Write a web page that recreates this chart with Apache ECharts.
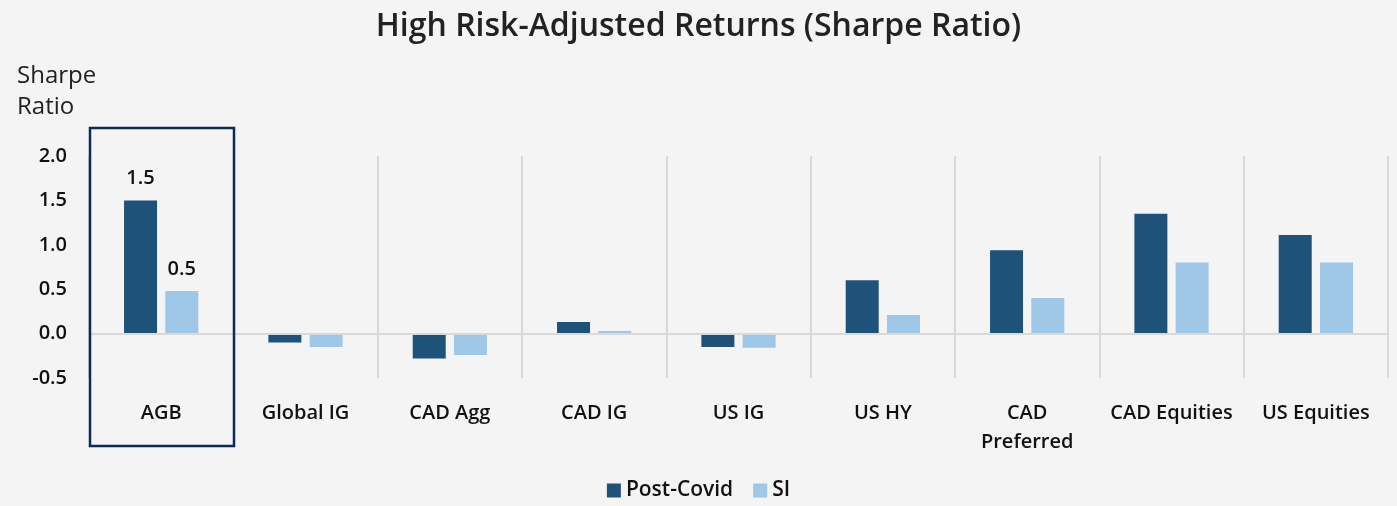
<!DOCTYPE html>
<html>
<head>
<meta charset="utf-8">
<script src="https://cdn.jsdelivr.net/npm/echarts@6/dist/echarts.min.js"></script>
<style>
html, body { margin: 0; padding: 0; background: #f4f4f4; }
#sharpeChart { width: 1397px; height: 506px; }
</style>
</head>
<body>
<div id="sharpeChart"></div>
<script type="text/javascript">
'use strict';
var categories = ['AGB', 'Global IG', 'CAD Agg', 'CAD IG', 'US IG', 'US HY', 'CAD\nPreferred', 'CAD Equities', 'US Equities'];
var postCovid = [1.5, -0.1, -0.28, 0.13, -0.15, 0.6, 0.94, 1.35, 1.11];
var si = [0.48, -0.15, -0.24, 0.03, -0.16, 0.21, 0.4, 0.8, 0.8];
var labelled = { 'AGB': true }; // only the highlighted asset carries value labels
var fontName = 'Open Sans';
var textColor = '#111';

var myChart = echarts.init(document.getElementById('sharpeChart'));
var sharpeOption = {
	backgroundColor: '#f4f4f4',
	textStyle: { fontFamily: fontName },
	title: [{
		text: 'High Risk-Adjusted Returns (Sharpe Ratio)',
		left: 'center',
		top: 6,
		textStyle: { fontSize: 32, fontWeight: 600, color: '#222', fontFamily: fontName }
	}, {
		text: 'Sharpe\nRatio',
		left: 12,
		top: 56,
		textStyle: { fontSize: 24, fontWeight: 'normal', color: '#222', lineHeight: 31, fontFamily: fontName }
	}],
	legend: {
		data: ['Post-Covid', 'SI'],
		bottom: 0,
		left: 'center',
		icon: 'rect',
		itemWidth: 14,
		itemHeight: 14,
		itemGap: 20,
		textStyle: { fontSize: 21, fontWeight: 600, color: textColor, fontFamily: fontName }
	},
	grid: {
		left: 89,
		right: 9,
		top: 156,
		bottom: 128
	},
	xAxis: [{
		type: 'category',
		data: categories,
		axisLine: { show: false, onZero: false },
		axisTick: { show: false },
		splitLine: { show: true, lineStyle: { color: '#d9d9d9', width: 2 } },
		axisLabel: { fontSize: 20, fontWeight: 600, color: textColor, margin: 21, lineHeight: 29, interval: 0 }
	}],
	yAxis: [{
		type: 'value',
		min: -0.5,
		max: 2.0,
		interval: 0.5,
		splitLine: { show: false },
		axisLine: { show: false },
		axisTick: { show: false },
		axisLabel: {
			fontSize: 20, fontWeight: 600, color: textColor, margin: 22,
			formatter: function (v) { return v.toFixed(1); }
		}
	}],
	series: [{
		name: 'Post-Covid',
		type: 'bar',
		data: postCovid,
		barWidth: 33,
		barGap: '25%',
		itemStyle: { color: '#1f5279' },
		label: {
			show: true,
			position: 'top',
			distance: 12,
			fontSize: 20,
			fontWeight: 600,
			color: textColor,
			formatter: function (p) { return labelled[p.name] ? p.value.toFixed(1) : ''; }
		},
		markLine: {
			silent: true,
			symbol: 'none',
			label: { show: false },
			lineStyle: { color: '#d9d9d9', width: 2, type: 'solid' },
			data: [{ yAxis: 0 }]
		},
		z: 3
	}, {
		name: 'SI',
		type: 'bar',
		data: si,
		barWidth: 33,
		itemStyle: { color: '#9fc7e8' },
		label: {
			show: true,
			position: 'top',
			distance: 12,
			fontSize: 20,
			fontWeight: 600,
			color: textColor,
			formatter: function (p) { return labelled[p.name] ? (Math.round(p.value * 10) / 10).toFixed(1) : ''; }
		},
		z: 3
	}],
	graphic: [{
		type: 'rect',
		shape: { x: 90, y: 128, width: 144, height: 318 },
		style: { fill: 'none', stroke: '#0d2a5c', lineWidth: 2.5 },
		z: 10
	}]
};
myChart.setOption(sharpeOption);
window.onresize = myChart.resize;
</script>
</body>
</html>
